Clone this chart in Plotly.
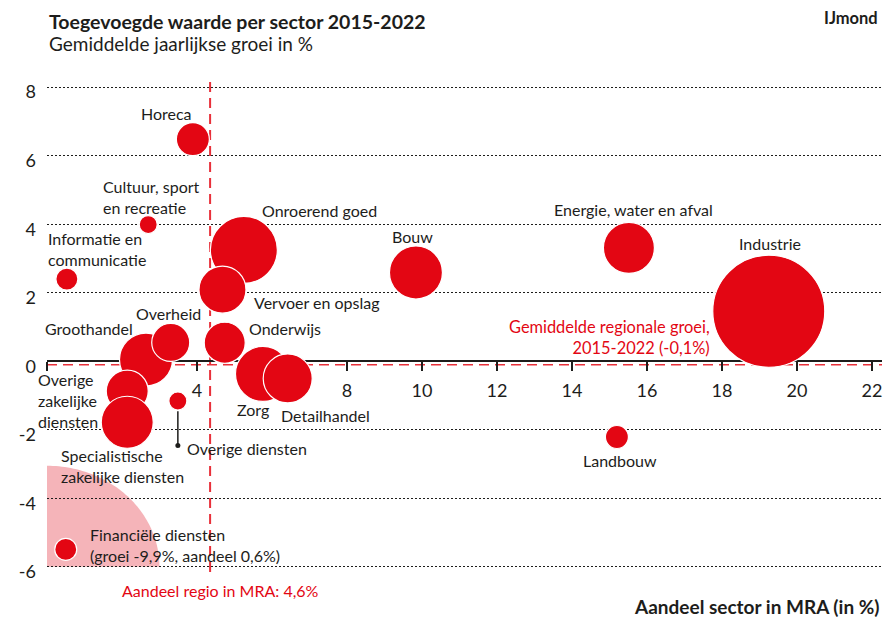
import numpy as np
import plotly.graph_objects as go

# ---------------- data ----------------
sectors = ["Onroerend goed", "Vervoer en opslag", "Horeca", "Cultuur, sport en recreatie",
           "Informatie en communicatie", "Bouw", "Energie, water en afval", "Industrie",
           "Groothandel", "Overheid", "Overige zakelijke diensten",
           "Specialistische zakelijke diensten", "Overige diensten", "Onderwijs",
           "Zorg", "Detailhandel", "Landbouw"]
aandeel = [5.25, 4.68, 3.89, 2.70, 0.53, 9.84, 15.52, 19.25, 2.64, 3.30, 2.14, 2.14,
           3.49, 4.74, 5.76, 6.42, 15.20]          # share of sector in MRA (%)
groei = [3.25, 2.09, 6.48, 3.99, 2.40, 2.59, 3.31, 1.46, 0.05, 0.55, -0.87, -1.78,
         -1.16, 0.54, -0.37, -0.50, -2.21]          # average yearly growth (%)
omvang = [67, 47, 33, 18, 22, 53, 51, 112, 53, 38, 42, 52, 18, 41, 55, 49, 23]  # bubble size

fin_name = "Financiële diensten"
fin_groei = -9.9
fin_aandeel = 0.6
fin_omvang = 22

regio_aandeel = 4.6
regio_groei = -0.1

x_ticks = [0, 2, 4, 6, 8, 10, 12, 14, 16, 18, 20, 22]
x_ticktext = ["", "", "4", "", "8", "10", "12", "14", "16", "18", "20", "22"]
y_ticks = [-6, -4, -2, 0, 2, 4, 6, 8]
y_ticktext = ["-6", "-4", "-2", "0", "2", "4", "6", "8"]

# ---------------- style ----------------
RED = "#E30613"
RED_LINE = "#E8303A"
PINK = "#F5B4B9"
TXT = "#1d1d1b"
FONT = "Lato"

# display placement (off-scale sector, reference lines)
fin_disp_x, fin_disp_y = 0.5, -5.49
vline_x = 4.35
xr = [0, 22.27]
yr = [-6.5, 8.5]


def nl(v):
    return str(v).replace(".", ",")


def px_paper(v):
    return (v - xr[0]) / (xr[1] - xr[0])


fig = go.Figure()

# pink off-scale zone (quarter circle)
t = np.linspace(0, np.pi / 2, 60)
qx = 3.0 * np.cos(t)
qy = -6.0 + 2.95 * np.sin(t)
path = "M 0,-6 " + " ".join(f"L {a:.4f},{b:.4f}" for a, b in zip(qx, qy)) + " Z"
fig.add_shape(type="path", path=path, xref="x", yref="y", fillcolor=PINK,
              line=dict(width=0), layer="below")

# reference lines
fig.add_shape(type="line", xref="x", yref="y", x0=vline_x, x1=vline_x, y0=8.15, y1=-6.15,
              line=dict(color=RED_LINE, width=2, dash="10px,6px"), layer="below")
fig.add_shape(type="line", xref="x", yref="y", x0=xr[0], x1=xr[1], y0=regio_groei, y1=regio_groei,
              line=dict(color=RED_LINE, width=1.5, dash="10px,6px"), layer="below")

# leader line for Overige diensten
i_od = sectors.index("Overige diensten")
fig.add_trace(go.Scatter(x=[aandeel[i_od], aandeel[i_od]], y=[groei[i_od] - 0.3, groei[i_od] - 1.3],
                         mode="lines", line=dict(color=TXT, width=1.5), hoverinfo="skip",
                         showlegend=False))
fig.add_trace(go.Scatter(x=[aandeel[i_od]], y=[groei[i_od] - 1.3], mode="markers",
                         marker=dict(color=TXT, size=5), hoverinfo="skip", showlegend=False))

# bubbles
fig.add_trace(go.Scatter(x=aandeel, y=groei, mode="markers", text=sectors,
                         marker=dict(size=omvang, color=RED, opacity=1,
                                     line=dict(color="white", width=1.2)),
                         hoverinfo="text", showlegend=False))
fig.add_trace(go.Scatter(x=[fin_disp_x], y=[fin_disp_y], mode="markers", text=[fin_name],
                         marker=dict(size=fin_omvang, color=RED,
                                     line=dict(color="white", width=1.2)),
                         hoverinfo="text", showlegend=False))

# ---------------- labels ----------------
labels = [
    ("Horeca", 3.20, 7.23, "center"),
    ("Cultuur, sport<br>en recreatie", 1.44, 4.79, "left"),
    ("Informatie en<br>communicatie", -0.03, 3.27, "left"),
    ("Onroerend goed", 5.68, 4.40, "left"),
    ("Vervoer en opslag", 5.47, 1.71, "left"),
    ("Overheid", 2.32, 1.39, "left"),
    ("Groothandel", -0.11, 0.95, "left"),
    ("Onderwijs", 5.33, 0.95, "left"),
    ("Overige<br>zakelijke<br>diensten", -0.29, -1.15, "left"),
    ("Zorg", 5.01, -1.41, "left"),
    ("Detailhandel", 6.19, -1.58, "left"),
    ("Overige diensten", 3.68, -2.55, "left"),
    ("Specialistische<br>zakelijke diensten", 0.32, -3.06, "left"),
    (f"{fin_name}<br>(groei {nl(fin_groei)}%, aandeel {nl(fin_aandeel)}%)", 1.09, -5.36, "left"),
    ("Bouw", 9.74, 3.65, "center"),
    ("Energie, water en afval", 15.65, 4.43, "center"),
    ("Industrie", 19.28, 3.43, "center"),
    ("Landbouw", 15.28, -2.90, "center"),
]
for txt, lx, ly, anc in labels:
    fig.add_annotation(text=txt, x=px_paper(lx), y=ly, xref="paper", yref="y", xanchor=anc,
                       yanchor="middle", align=anc, showarrow=False,
                       font=dict(family=FONT, size=16, color=TXT))

fig.add_annotation(text=f"Gemiddelde regionale groei,<br>2015-2022 ({nl(regio_groei)}%)",
                   x=px_paper(17.73), y=0.71, xref="paper", yref="y", xanchor="right",
                   yanchor="middle", align="right", showarrow=False,
                   font=dict(family=FONT, size=16.4, color=RED))
fig.add_annotation(text=f"Aandeel regio in MRA: {nl(regio_aandeel)}%",
                   x=px_paper(4.64), y=-0.0136, xref="paper", yref="paper", xanchor="center",
                   yanchor="middle", showarrow=False, font=dict(family=FONT, size=16, color=RED))
fig.add_annotation(text="<b>Aandeel sector in MRA (in %)</b>", x=1.0, y=-0.0447, xref="paper",
                   yref="paper", xanchor="right", yanchor="middle", showarrow=False,
                   font=dict(family=FONT, size=19, color=TXT))
fig.add_annotation(text="<b>Toegevoegde waarde per sector 2015-2022</b>", x=0, y=1.0953,
                   xref="paper", yref="paper", xanchor="left", yanchor="middle", showarrow=False,
                   font=dict(family=FONT, size=19.5, color=TXT))
fig.add_annotation(text="Gemiddelde jaarlijkse groei in %", x=0, y=1.0506,
                   xref="paper", yref="paper", xanchor="left", yanchor="middle", showarrow=False,
                   font=dict(family=FONT, size=19, color=TXT))
fig.add_annotation(text="<b>IJmond</b>", x=0.998, y=1.1011, xref="paper", yref="paper",
                   xanchor="right", yanchor="middle", showarrow=False,
                   font=dict(family=FONT, size=16.5, color=TXT))

zero_pos = (0 - yr[0]) / (yr[1] - yr[0])

# the page body has an 8px margin: size the figure so that the plot area lands at
# x 47..882 and y 70..584 of the 891x620 window
fig.update_layout(
    width=883, height=612,
    margin=dict(l=39, r=9, t=62, b=36),
    paper_bgcolor="white", plot_bgcolor="white",
    font=dict(family=FONT, color=TXT),
    xaxis=dict(range=xr, anchor="free", position=zero_pos, showgrid=False, zeroline=False,
               showline=True, linecolor=TXT, linewidth=1.5, ticks="outside", ticklen=9,
               tickwidth=1.5, tickcolor=TXT, tickvals=x_ticks, ticktext=x_ticktext,
               tickfont=dict(family=FONT, size=18, color=TXT), ticklabelstandoff=4,
               layer="below traces", fixedrange=True),
    yaxis=dict(range=yr, tickvals=y_ticks, ticktext=y_ticktext, showgrid=True, gridcolor=TXT,
               gridwidth=1, griddash="2px,2px", zeroline=False, showline=False, ticks="",
               tickfont=dict(family=FONT, size=18, color=TXT), ticklabelstandoff=10,
               ticklabelshift=5, fixedrange=True),
)

fig.write_html("out.html")
